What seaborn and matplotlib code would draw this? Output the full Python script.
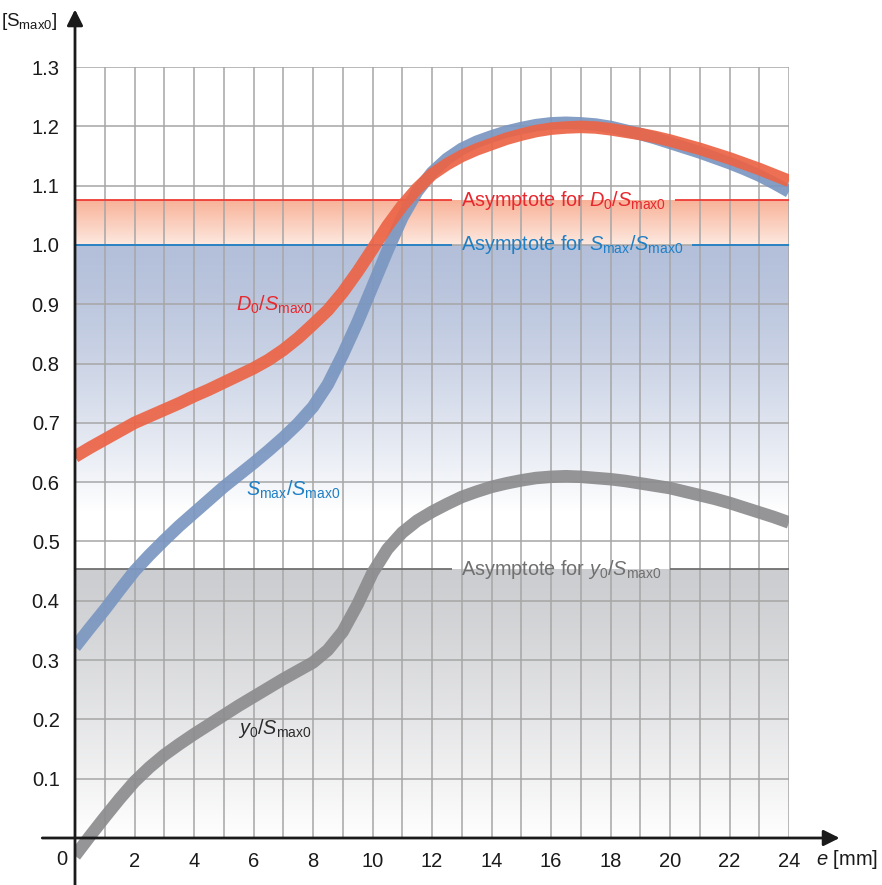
import numpy as np
import pandas as pd
import matplotlib
matplotlib.use("Agg")
import matplotlib.pyplot as plt
from matplotlib.patches import Rectangle
import seaborn as sns

# ---------------- data ----------------
E_MM = [0, 0.5, 1, 1.5, 2, 2.5, 3, 3.5, 4, 4.5, 5, 5.5, 6, 6.5, 7, 7.5, 8, 8.5,
        9, 9.5, 10, 10.5, 11, 11.5, 12, 12.5, 13, 13.5, 14, 14.5, 15, 15.5, 16,
        16.5, 17, 17.5, 18, 18.5, 19, 19.5, 20, 20.5, 21, 21.5, 22, 22.5, 23, 23.5, 24]
D0_RATIO = [0.643, 0.658, 0.672, 0.686, 0.700, 0.711, 0.722, 0.733, 0.745, 0.756,
            0.768, 0.780, 0.792, 0.806, 0.823, 0.843, 0.866, 0.890, 0.920, 0.955,
            0.993, 1.032, 1.066, 1.095, 1.119, 1.136, 1.150, 1.161, 1.170, 1.179,
            1.186, 1.192, 1.196, 1.198, 1.199, 1.198, 1.195, 1.191, 1.187, 1.182,
            1.176, 1.169, 1.162, 1.154, 1.146, 1.137, 1.128, 1.118, 1.108]
SMAX_RATIO = [0.322, 0.354, 0.385, 0.418, 0.450, 0.477, 0.502, 0.526, 0.548, 0.570,
              0.592, 0.612, 0.632, 0.653, 0.675, 0.699, 0.727, 0.765, 0.815, 0.870,
              0.930, 0.990, 1.046, 1.090, 1.122, 1.145, 1.162, 1.174, 1.183, 1.191,
              1.197, 1.202, 1.205, 1.206, 1.205, 1.203, 1.199, 1.193, 1.187, 1.180,
              1.172, 1.164, 1.156, 1.147, 1.138, 1.128, 1.117, 1.104, 1.090]
Y0_RATIO = [-0.030, 0.003, 0.035, 0.066, 0.095, 0.119, 0.140, 0.158, 0.175, 0.191,
            0.207, 0.223, 0.238, 0.253, 0.268, 0.282, 0.296, 0.317, 0.348, 0.394,
            0.447, 0.487, 0.515, 0.535, 0.550, 0.563, 0.575, 0.584, 0.592, 0.598,
            0.603, 0.607, 0.609, 0.610, 0.609, 0.607, 0.605, 0.602, 0.598, 0.594,
            0.590, 0.584, 0.578, 0.572, 0.565, 0.557, 0.549, 0.541, 0.532]

ASYM_D0 = 1.075
ASYM_SMAX = 1.000
ASYM_Y0 = 0.453

X_TICKS = [2, 4, 6, 8, 10, 12, 14, 16, 18, 20, 22, 24]
X_TICK_LABELS = [str(v) for v in X_TICKS]
Y_TICKS = [0.1, 0.2, 0.3, 0.4, 0.5, 0.6, 0.7, 0.8, 0.9, 1.0, 1.1, 1.2, 1.3]
Y_TICK_LABELS = ["0.1", "0.2", "0.3", "0.4", "0.5", "0.6", "0.7", "0.8", "0.9",
                 "1.0", "1.1", "1.2", "1.3"]

# ---------------- style ----------------
sns.set_theme(style="white")
plt.rcParams["font.family"] = ["Liberation Sans", "DejaVu Sans"]
plt.rcParams["mathtext.fontset"] = "custom"
plt.rcParams["mathtext.rm"] = "Liberation Sans"
plt.rcParams["mathtext.it"] = "Liberation Sans:italic"
plt.rcParams["mathtext.bf"] = "Liberation Sans:bold"

RED_LINE = "#EC6446"
BLUE_LINE = "#7A96C0"
GRAY_LINE = "#8C8C8E"
RED_TXT = "#E8282E"
BLUE_TXT = "#1F7FC5"
GRAY_TXT = "#707070"
DARK_TXT = "#2b2b2b"
FS = 14.3
TICK_FS = 14.5

fig = plt.figure(figsize=(8.82, 8.85), dpi=100)
ax = fig.add_axes([75 / 882, 1 - 838 / 885, 714 / 882, 771 / 885])


def band(y_top, y_bot, c_top, c_bot, power):
    n = 256
    t = np.linspace(0, 1, n) ** power
    c_top = np.array(c_top, float) / 255
    c_bot = np.array(c_bot, float) / 255
    arr = c_top[None, :] + (c_bot - c_top)[None, :] * t[:, None]
    arr = arr[:, None, :]
    ax.imshow(arr, extent=[0, 24, y_bot, y_top], aspect="auto", origin="upper",
              interpolation="bilinear", zorder=0)


band(ASYM_D0, ASYM_SMAX, (248, 178, 152), (253, 233, 224), 1.0)
band(ASYM_SMAX, 0.55, (180, 192, 218), (255, 255, 255), 1.4)
band(ASYM_Y0, 0.0, (204, 205, 208), (255, 255, 255), 1.2)
ax.set_xlim(0, 24)
ax.set_ylim(0, 1.3)

# grid
ax.set_axisbelow(True)
ax.set_xticks(X_TICKS)
ax.set_xticklabels(X_TICK_LABELS)
ax.set_xticks(list(range(0, 25)), minor=True)
ax.set_yticks(Y_TICKS)
ax.set_yticklabels(Y_TICK_LABELS)
ax.grid(which="both", axis="x", color="#A6A6A6", linewidth=1.1)
ax.grid(which="major", axis="y", color="#A6A6A6", linewidth=1.1)
ax.tick_params(axis="x", which="major", length=5, width=1.6, color="#1a1a1a",
               pad=5, labelsize=TICK_FS, labelcolor="#1a1a1a", direction="out")
ax.tick_params(axis="x", which="minor", length=0)
ax.tick_params(axis="y", length=0, pad=11, labelsize=TICK_FS, labelcolor="#1a1a1a")
for s in ax.spines.values():
    s.set_visible(False)

# curves
df = pd.DataFrame({"e": E_MM, "D0": D0_RATIO, "Smax": SMAX_RATIO, "y0": Y0_RATIO})
clip_rect = Rectangle((0, -0.2), 24, 1.7, transform=ax.transData)
for col, colr in [("y0", GRAY_LINE), ("Smax", BLUE_LINE), ("D0", RED_LINE)]:
    sns.lineplot(data=df, x="e", y=col, ax=ax, color=colr, linewidth=9,
                 alpha=0.92, solid_capstyle="butt", solid_joinstyle="round",
                 zorder=3, sort=False)
    ln = ax.lines[-1]
    ln.set_clip_path(clip_rect)
ax.set_xlabel("")
ax.set_ylabel("")

# asymptote texts + lines with gaps
TXT_X = 12.97
asym = [
    (ASYM_D0, r"Asymptote for $D_{\mathrm{0}}$/$S_{\mathrm{max0}}$", RED_TXT, "#EE3B36"),
    (ASYM_SMAX, r"Asymptote for $S_{\mathrm{max}}$/$S_{\mathrm{max0}}$", BLUE_TXT, "#1F7FC5"),
    (ASYM_Y0, r"Asymptote for $y_{\mathrm{0}}$/$S_{\mathrm{max0}}$", GRAY_TXT, "#6F6F6F"),
]
fig.canvas.draw()
renderer = fig.canvas.get_renderer()
inv = ax.transData.inverted()
for yv, lab, tc, lc in asym:
    t = ax.text(TXT_X, yv, lab, color=tc, fontsize=FS, ha="left", va="center", zorder=4)
    bb = t.get_window_extent(renderer)
    x0 = inv.transform((bb.x0, bb.y0))[0] - 0.3
    x1 = inv.transform((bb.x1, bb.y0))[0] + 0.3
    ax.hlines(yv, 0, x0, color=lc, linewidth=1.3, zorder=1.5)
    ax.hlines(yv, x1, 24, color=lc, linewidth=1.3, zorder=1.5)

# curve labels
ax.text(5.41, 0.899, r"$D_{\mathrm{0}}$/$S_{\mathrm{max0}}$", color=RED_TXT, fontsize=FS,
        ha="left", va="center", zorder=4)
ax.text(5.75, 0.587, r"$S_{\mathrm{max}}$/$S_{\mathrm{max0}}$", color=BLUE_TXT, fontsize=FS,
        ha="left", va="center", zorder=4)
ax.text(5.48, 0.185, r"$y_{\mathrm{0}}$/$S_{\mathrm{max0}}$", color=DARK_TXT, fontsize=FS,
        ha="left", va="center", zorder=4)

# axes with arrows
arrow_kw = dict(arrowstyle="-|>", lw=2.0, color="#1a1a1a", mutation_scale=24,
                shrinkA=0, shrinkB=0)
ax.annotate("", xy=(25.7, 0), xytext=(-1.1, 0), arrowprops=arrow_kw,
            annotation_clip=False, zorder=6)
ax.annotate("", xy=(0, 1.397), xytext=(0, -0.08), arrowprops=arrow_kw,
            annotation_clip=False, zorder=6)

# axis titles
ax.text(-0.6, 1.376, r"[S$_{\mathrm{max0}}$]", fontsize=13.5, color="#1a1a1a",
        ha="right", va="center", clip_on=False)
ax.text(24.9, -0.037, r"$e$ [mm]", fontsize=TICK_FS, color="#1a1a1a",
        ha="left", va="center", clip_on=False)
ax.text(-0.45, -0.037, "0", fontsize=TICK_FS, color="#1a1a1a",
        ha="center", va="center", clip_on=False)

fig.savefig("out.png", dpi=100)
